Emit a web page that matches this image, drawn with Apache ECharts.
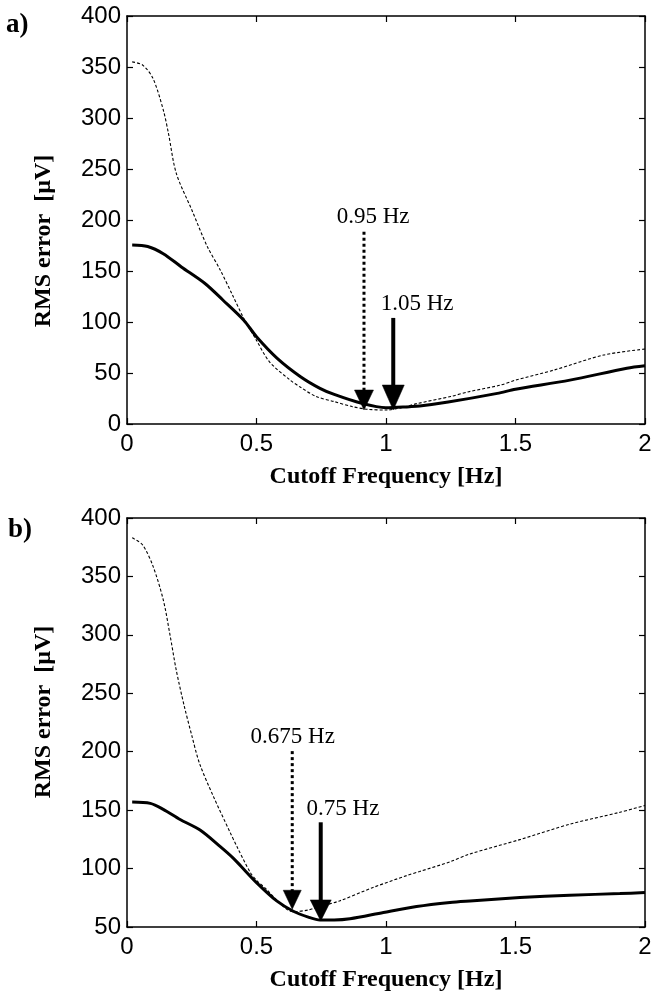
<!DOCTYPE html>
<html><head><meta charset="utf-8">
<script src="https://cdn.jsdelivr.net/npm/echarts@6/dist/echarts.min.js"></script>
<style>html,body{margin:0;padding:0;background:#fff}#c{width:653px;height:997px}</style>
</head><body><div id="c"></div><script>
// ---- data ----
const xTickValues = [0, 0.5, 1, 1.5, 2];
const yTickValuesA = [0, 50, 100, 150, 200, 250, 300, 350, 400];
const yTickValuesB = [50, 100, 150, 200, 250, 300, 350, 400];

// panel a
const aDashedX = [0.02,0.06,0.10,0.14,0.16,0.19,0.25,0.31,0.36,0.41,0.45,0.50,0.55,0.63,0.67,0.73,0.80,0.87,0.93,1.00,1.06,1.12,1.25,1.32,1.44,1.50,1.65,1.84,2.00];
const aDashedY = [355,352,339,308,285,246,210,174,151,125,104,82,61,43,36,27,22,17,14.4,13.7,16,20,27,31.7,38,43,53,67.6,73.5];
const aSolidX = [0.02,0.08,0.14,0.21,0.30,0.37,0.45,0.50,0.58,0.67,0.745,0.80,0.906,1.00,1.09,1.13,1.24,1.43,1.50,1.71,1.93,2.00];
const aSolidY = [175.5,174,167,154,138,121.6,102,85.6,64.4,46.4,35,29,20.3,16,17,17.6,21.5,30,34,43,54.6,57];
// arrows: [x, start value, tip value]
const aDottedArrow = [[0.915, 188.5, 13.7]];
const aSolidArrow = [[1.028, 104, 13.7]];
const aLabelPos = [[0.95, 203], [1.12, 118]];
const aLabelText = ['0.95 Hz', '1.05 Hz'];

// panel b
const bDashedX = [0.02,0.06,0.10,0.14,0.166,0.19,0.22,0.25,0.28,0.333,0.398,0.424,0.475,0.50,0.54,0.578,0.64,0.70,0.72,0.82,0.95,1.08,1.13,1.25,1.32,1.52,1.71,1.90,2.00];
const bDashedY = [383,377,359,330,300,270,240,214,190,162,131,119,97,90,82,73,63,64.5,66,72.3,83.8,94,97.5,106,112.2,125,138,148,154];
const bSolidX = [0.02,0.09,0.14,0.205,0.282,0.359,0.41,0.44,0.50,0.578,0.642,0.70,0.745,0.80,0.861,0.99,1.118,1.247,1.324,1.517,1.71,1.903,2.00];
const bSolidY = [157,155.8,150.7,142,133,119,109,102,88,72.3,63.5,58.5,56,56,57,62.4,67.5,71,72.3,75.2,77.2,78.6,79.5];
const bDottedArrow = [[0.638, 200.5, 65.2]];
const bSolidArrow = [[0.748, 139.6, 55.2]];
const bLabelPos = [[0.64, 213], [0.834, 151]];
const bLabelText = ['0.675 Hz', '0.75 Hz'];

// ---- helpers ----
const zip = (xs, ys) => xs.map((x, i) => [x, ys[i]]);
const SANS = '"Liberation Sans", Arial, Helvetica, sans-serif';
const SERIF = '"Liberation Serif", "Times New Roman", serif';

function arrowRender(st) {
  return function (params, api) {
    const x = api.value(0);
    const p1 = api.coord([x, api.value(1)]);
    const p2 = api.coord([x, api.value(2)]);
    const hw = st.headW / 2, hh = st.headH;
    return {
      type: 'group',
      children: [
        { type: 'line', shape: { x1: p1[0], y1: p1[1], x2: p2[0], y2: p2[1] - hh + 1 },
          style: { stroke: '#000', lineWidth: st.lw, lineDash: st.dash } },
        { type: 'polygon', shape: { points: [[p2[0] - hw, p2[1] - hh], [p2[0] + hw, p2[1] - hh], [p2[0], p2[1]]] },
          style: { fill: '#000', stroke: '#000', lineWidth: 0.5 } }
      ]
    };
  };
}
function labelRender(texts) {
  return function (params, api) {
    const p = api.coord([api.value(0), api.value(1)]);
    return { type: 'text', x: p[0], y: p[1],
      style: { text: texts[params.dataIndex], font: '23px ' + SERIF, fill: '#000',
               align: 'center', verticalAlign: 'middle', textAlign: 'center', textVerticalAlign: 'middle' } };
  };
}

function mainX(gi) {
  return { type: 'value', gridIndex: gi, min: xTickValues[0], max: xTickValues[xTickValues.length - 1],
    interval: xTickValues[1] - xTickValues[0], position: 'bottom',
    axisLine: { show: true, onZero: false, lineStyle: { color: '#000', width: 1.5 } },
    axisTick: { show: true, inside: true, length: 6, lineStyle: { color: '#000', width: 1.2 } },
    axisLabel: { show: true, color: '#000', fontFamily: SANS, fontSize: 24, margin: 8 },
    splitLine: { show: false } };
}
function mirrorX(gi) {
  const a = mainX(gi); a.position = 'top'; a.axisLabel = { show: false }; return a;
}
function mainY(gi, ticks) {
  return { type: 'value', gridIndex: gi, min: ticks[0], max: ticks[ticks.length - 1],
    interval: ticks[1] - ticks[0], position: 'left',
    axisLine: { show: true, onZero: false, lineStyle: { color: '#000', width: 1.5 } },
    axisTick: { show: true, inside: true, length: 6, lineStyle: { color: '#000', width: 1.2 } },
    axisLabel: { show: true, color: '#000', fontFamily: SANS, fontSize: 24, margin: 6 },
    splitLine: { show: false } };
}
function mirrorY(gi, ticks) {
  const a = mainY(gi, ticks); a.position = 'right'; a.axisLabel = { show: false }; return a;
}
function lineSeries(xi, yi, data, solid) {
  return { type: 'line', xAxisIndex: xi, yAxisIndex: yi, data: data, showSymbol: false, symbol: 'none',
    smooth: 0.3, silent: true, z: solid ? 3 : 2,
    lineStyle: solid ? { color: '#000', width: 3 } : { color: '#000', width: 1.1, type: [3, 2] } };
}
function arrowSeries(xi, yi, data, st) {
  return { type: 'custom', xAxisIndex: xi, yAxisIndex: yi, data: data, encode: { x: 0, y: [1, 2] },
    renderItem: arrowRender(st), silent: true, z: 5 };
}
function labelSeries(xi, yi, data, texts) {
  return { type: 'custom', xAxisIndex: xi, yAxisIndex: yi, data: data, encode: { x: 0, y: 1 },
    renderItem: labelRender(texts), silent: true, z: 6 };
}

const chart = echarts.init(document.getElementById('c'), null, { renderer: 'canvas' });
chart.setOption({
  animation: false,
  backgroundColor: '#fff',
  grid: [
    { left: 127, top: 16, width: 518, height: 408, containLabel: false, outerBoundsMode: 'none' },
    { left: 127, top: 518, width: 518, height: 409, containLabel: false, outerBoundsMode: 'none' }
  ],
  xAxis: [mainX(0), mirrorX(0), mainX(1), mirrorX(1)],
  yAxis: [mainY(0, yTickValuesA), mirrorY(0, yTickValuesA), mainY(1, yTickValuesB), mirrorY(1, yTickValuesB)],
  series: [
    lineSeries(0, 0, zip(aDashedX, aDashedY), false),
    lineSeries(0, 0, zip(aSolidX, aSolidY), true),
    arrowSeries(0, 0, aDottedArrow, { lw: 3, dash: [3, 3], headW: 19, headH: 20 }),
    arrowSeries(0, 0, aSolidArrow, { lw: 4, dash: null, headW: 22, headH: 25 }),
    labelSeries(0, 0, aLabelPos, aLabelText),
    lineSeries(2, 2, zip(bDashedX, bDashedY), false),
    lineSeries(2, 2, zip(bSolidX, bSolidY), true),
    arrowSeries(2, 2, bDottedArrow, { lw: 3, dash: [3, 3], headW: 18, headH: 19 }),
    arrowSeries(2, 2, bSolidArrow, { lw: 4, dash: null, headW: 21, headH: 21 }),
    labelSeries(2, 2, bLabelPos, bLabelText)
  ],
  graphic: [
    { type: 'text', x: 6, y: 25, style: { text: 'a)', font: 'bold 27px ' + SERIF, fill: '#000', align: 'left', verticalAlign: 'middle', textAlign: 'left', textVerticalAlign: 'middle' } },
    { type: 'text', x: 8, y: 530, style: { text: 'b)', font: 'bold 27px ' + SERIF, fill: '#000', align: 'left', verticalAlign: 'middle', textAlign: 'left', textVerticalAlign: 'middle' } },
    { type: 'text', x: 44, y: 241, rotation: Math.PI / 2, style: { text: 'RMS error  [\u00b5V]', font: 'bold 24px ' + SERIF, fill: '#000', align: 'center', verticalAlign: 'middle', textAlign: 'center', textVerticalAlign: 'middle' } },
    { type: 'text', x: 44, y: 712, rotation: Math.PI / 2, style: { text: 'RMS error  [\u00b5V]', font: 'bold 24px ' + SERIF, fill: '#000', align: 'center', verticalAlign: 'middle', textAlign: 'center', textVerticalAlign: 'middle' } },
    { type: 'text', x: 386, y: 477, style: { text: 'Cutoff Frequency [Hz]', font: 'bold 24px ' + SERIF, fill: '#000', align: 'center', verticalAlign: 'middle', textAlign: 'center', textVerticalAlign: 'middle' } },
    { type: 'text', x: 386, y: 980, style: { text: 'Cutoff Frequency [Hz]', font: 'bold 24px ' + SERIF, fill: '#000', align: 'center', verticalAlign: 'middle', textAlign: 'center', textVerticalAlign: 'middle' } }
  ]
});
</script></body></html>
